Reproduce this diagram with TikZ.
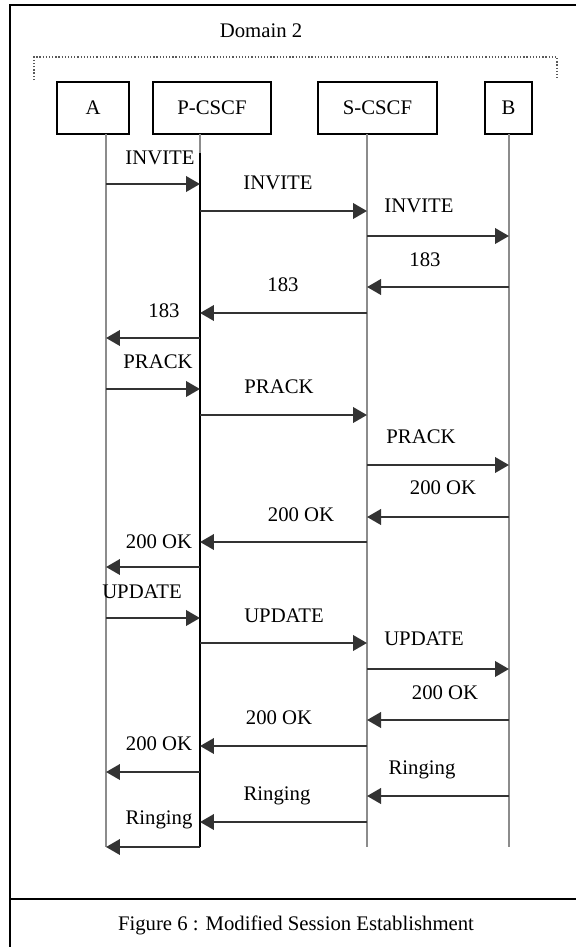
\documentclass[tikz,border=0pt]{standalone}
\usepackage{fontspec}
\setmainfont{Liberation Serif}
\usetikzlibrary{arrows.meta}

\begin{document}
\begin{tikzpicture}[x=0.02cm,y=-0.02cm]
\tikzset{
  entity/.style={draw,line width=1.1pt,minimum height=1.04cm,inner sep=0pt,font=\fontsize{11.8}{14}\selectfont},
  lifeline/.style={line width=1.1pt,black!45},
  msg/.style={-{Triangle[length=0.28cm,width=0.31cm]},line width=1.3pt,black!80},
  msglabel/.style={inner sep=0pt,font=\fontsize{11.8}{14}\selectfont}
}
\useasboundingbox (0,0) rectangle (576,947);
% frame and caption
\draw[line width=1.2pt] (576,5) -- (10,5) -- (10,947);
\draw[line width=1.2pt] (10,899) -- (576,899);
\node[msglabel] (n_caption) at (296,925) {Figure 6 : Modified Session Establishment};
% domain
\node[msglabel] (n_domain) at (261,31) {Domain 2};
\draw[black!65,line width=0.8pt,dash pattern=on 0.7pt off 1.1pt] (34,80) -- (34,57) -- (557,57) -- (557,80);
% entities
\node[entity,minimum width=1.44cm] (n_a) at (93,108) {A};
\node[entity,minimum width=2.36cm] (n_p) at (212,108) {P-CSCF};
\node[entity,minimum width=2.38cm] (n_s) at (377.5,108) {S-CSCF};
\node[entity,minimum width=0.94cm] (n_b) at (508.5,108) {B};
\coordinate (l_a) at (106,134);
\coordinate (l_p) at (200,134);
\coordinate (l_s) at (367,134);
\coordinate (l_b) at (509,134);
\coordinate (l_a_end) at (106,847);
\coordinate (l_p_end) at (200,847);
\coordinate (l_s_end) at (367,847);
\coordinate (l_b_end) at (509,847);
\draw[lifeline] (l_a) -- (l_a_end);
\draw[lifeline] (l_p) -- (l_p |- 0,153);
\draw[lifeline,black] (l_p |- 0,153) -- (l_p_end);
\draw[lifeline] (l_s) -- (l_s_end);
\draw[lifeline] (l_b) -- (l_b_end);
% INVITE
\draw[msg] (l_a |- 0,184) -- (l_p |- 0,184);
\node[msglabel] (t_inv1) at (160,158) {INVITE};
\draw[msg] (l_p |- 0,211) -- (l_s |- 0,211);
\node[msglabel] (t_inv2) at (278,183) {INVITE};
\draw[msg] (l_s |- 0,236) -- (l_b |- 0,236);
\node[msglabel] (t_inv3) at (419,206) {INVITE};
% 183
\draw[msg] (l_b |- 0,287) -- (l_s |- 0,287);
\node[msglabel] (t_183a) at (425,260) {183};
\draw[msg] (l_s |- 0,313) -- (l_p |- 0,313);
\node[msglabel] (t_183b) at (283,285) {183};
\draw[msg] (l_p |- 0,338) -- (l_a |- 0,338);
\node[msglabel] (t_183c) at (164,311) {183};
% PRACK
\draw[msg] (l_a |- 0,389) -- (l_p |- 0,389);
\node[msglabel] (t_prack1) at (158,362) {PRACK};
\draw[msg] (l_p |- 0,415) -- (l_s |- 0,415);
\node[msglabel] (t_prack2) at (279,387) {PRACK};
\draw[msg] (l_s |- 0,465) -- (l_b |- 0,465);
\node[msglabel] (t_prack3) at (421,437) {PRACK};
% 200 OK
\draw[msg] (l_b |- 0,517) -- (l_s |- 0,517);
\node[msglabel] (t_ok1) at (443,488) {200 OK};
\draw[msg] (l_s |- 0,542) -- (l_p |- 0,542);
\node[msglabel] (t_ok2) at (301,515) {200 OK};
\draw[msg] (l_p |- 0,567) -- (l_a |- 0,567);
\node[msglabel] (t_ok3) at (159,542) {200 OK};
% UPDATE
\draw[msg] (l_a |- 0,618) -- (l_p |- 0,618);
\node[msglabel] (t_upd1) at (142,592) {UPDATE};
\draw[msg] (l_p |- 0,643) -- (l_s |- 0,643);
\node[msglabel] (t_upd2) at (284,616) {UPDATE};
\draw[msg] (l_s |- 0,669) -- (l_b |- 0,669);
\node[msglabel] (t_upd3) at (424,639) {UPDATE};
% 200 OK
\draw[msg] (l_b |- 0,720) -- (l_s |- 0,720);
\node[msglabel] (t_ok4) at (445,693) {200 OK};
\draw[msg] (l_s |- 0,746) -- (l_p |- 0,746);
\node[msglabel] (t_ok5) at (279,718) {200 OK};
\draw[msg] (l_p |- 0,772) -- (l_a |- 0,772);
\node[msglabel] (t_ok6) at (159,744) {200 OK};
% Ringing
\draw[msg] (l_b |- 0,796) -- (l_s |- 0,796);
\node[msglabel] (t_ring1) at (422,770) {Ringing};
\draw[msg] (l_s |- 0,822) -- (l_p |- 0,822);
\node[msglabel] (t_ring2) at (277,796) {Ringing};
\draw[msg] (l_p_end) -- (l_a_end);
\node[msglabel] (t_ring3) at (159,820) {Ringing};
\end{tikzpicture}
\end{document}
